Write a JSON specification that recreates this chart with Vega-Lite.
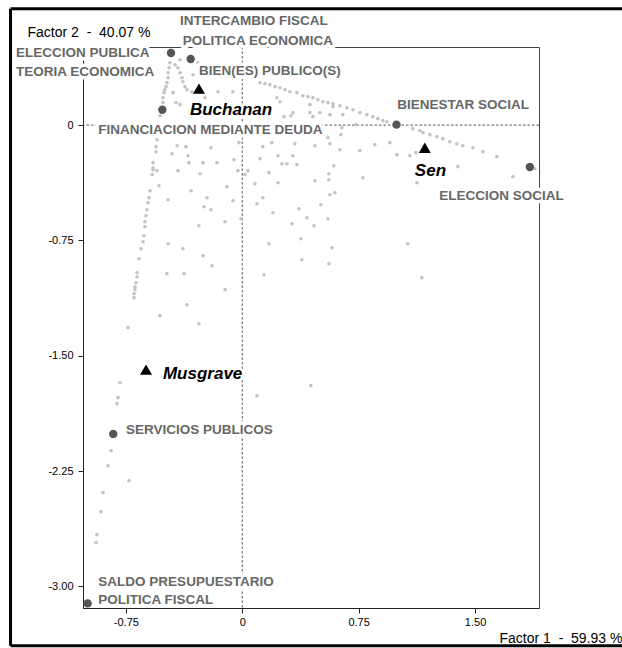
{
  "$schema": "https://vega.github.io/schema/vega-lite/v6.json",
  "width": 456,
  "height": 561,
  "autosize": {"type": "none"},
  "padding": {"left": 83, "top": 47, "right": 83, "bottom": 40},
  "background": "white",
  "config": {"view": {"stroke": "#444", "strokeWidth": 1}, "font": "Liberation Sans"},
  "datasets": {
    "puntos": [
      {"f1": -0.466, "f2": 0.406}, {"f1": -0.472, "f2": 0.373}, {"f1": -0.478, "f2": 0.341}, {"f1": -0.478, "f2": 0.308}, {"f1": -0.485, "f2": 0.276}, {"f1": -0.491, "f2": 0.25}, {"f1": -0.498, "f2": 0.23}, {"f1": -0.504, "f2": 0.211}, {"f1": -0.511, "f2": 0.178}, {"f1": -0.511, "f2": 0.146},
      {"f1": -0.433, "f2": 0.393}, {"f1": -0.414, "f2": 0.373}, {"f1": -0.401, "f2": 0.341}, {"f1": -0.388, "f2": 0.308}, {"f1": -0.382, "f2": 0.282}, {"f1": -0.369, "f2": 0.25}, {"f1": -0.356, "f2": 0.23}, {"f1": -0.324, "f2": 0.217},
      {"f1": -0.317, "f2": 0.328}, {"f1": -0.446, "f2": 0.211}, {"f1": -0.401, "f2": 0.133}, {"f1": -0.401, "f2": 0.425}, {"f1": -0.24, "f2": 0.178}, {"f1": -0.156, "f2": 0.217}, {"f1": -0.06, "f2": 0.217}, {"f1": -0.427, "f2": 0.146}, {"f1": -0.285, "f2": 0.406}, {"f1": -0.247, "f2": 0.393},
      {"f1": 0.114, "f2": 0.276}, {"f1": 0.146, "f2": 0.269}, {"f1": 0.178, "f2": 0.263}, {"f1": 0.211, "f2": 0.25}, {"f1": 0.243, "f2": 0.243}, {"f1": 0.275, "f2": 0.23}, {"f1": 0.307, "f2": 0.217}, {"f1": 0.352, "f2": 0.211}, {"f1": 0.391, "f2": 0.191}, {"f1": 0.423, "f2": 0.185}, {"f1": 0.455, "f2": 0.178}, {"f1": 0.487, "f2": 0.165}, {"f1": 0.52, "f2": 0.152}, {"f1": 0.552, "f2": 0.146}, {"f1": 0.584, "f2": 0.139}, {"f1": 0.629, "f2": 0.126}, {"f1": 0.674, "f2": 0.113}, {"f1": 0.713, "f2": 0.1}, {"f1": 0.758, "f2": 0.081}, {"f1": 0.803, "f2": 0.068}, {"f1": 0.842, "f2": 0.055}, {"f1": 0.874, "f2": 0.042}, {"f1": 0.906, "f2": 0.029}, {"f1": 0.932, "f2": 0.022},
      {"f1": 0.223, "f2": 0.178}, {"f1": 0.243, "f2": 0.152}, {"f1": 0.436, "f2": 0.133}, {"f1": 0.584, "f2": 0.12},
      {"f1": 1.099, "f2": -0.023}, {"f1": 1.144, "f2": -0.036}, {"f1": 1.164, "f2": -0.049}, {"f1": 1.209, "f2": -0.062}, {"f1": 1.254, "f2": -0.075}, {"f1": 1.292, "f2": -0.088}, {"f1": 1.337, "f2": -0.108}, {"f1": 1.382, "f2": -0.121}, {"f1": 1.421, "f2": -0.134}, {"f1": 1.486, "f2": -0.147}, {"f1": 1.55, "f2": -0.173}, {"f1": 1.64, "f2": -0.205}, {"f1": 1.885, "f2": -0.283},
      {"f1": 0.269, "f2": 0.055}, {"f1": 0.314, "f2": 0.061}, {"f1": 0.326, "f2": 0.081}, {"f1": 0.436, "f2": 0.081}, {"f1": 0.455, "f2": 0.055}, {"f1": 0.5, "f2": 0.081}, {"f1": 0.565, "f2": 0.068}, {"f1": 0.648, "f2": 0.068}, {"f1": 0.642, "f2": -0.017}, {"f1": 0.636, "f2": -0.062}, {"f1": 0.732, "f2": 0.003},
      {"f1": -0.549, "f2": -0.095}, {"f1": -0.556, "f2": -0.14}, {"f1": -0.556, "f2": -0.173}, {"f1": -0.53, "f2": 0.061}, {"f1": -0.42, "f2": -0.134}, {"f1": -0.363, "f2": -0.14}, {"f1": -0.202, "f2": -0.147}, {"f1": -0.021, "f2": -0.114}, {"f1": 0.191, "f2": -0.114}, {"f1": 0.133, "f2": -0.14}, {"f1": 0.339, "f2": -0.121}, {"f1": 0.468, "f2": -0.134}, {"f1": 0.565, "f2": -0.121}, {"f1": 0.552, "f2": -0.082}, {"f1": 0.629, "f2": -0.16}, {"f1": 0.758, "f2": -0.166}, {"f1": 0.854, "f2": -0.127}, {"f1": 0.951, "f2": -0.114}, {"f1": 0.996, "f2": -0.192}, {"f1": 1.08, "f2": -0.199}, {"f1": 1.118, "f2": -0.179}, {"f1": 1.389, "f2": -0.27}, {"f1": 1.743, "f2": -0.336}, {"f1": 1.125, "f2": -0.375}, {"f1": 0.777, "f2": -0.342},
      {"f1": -0.453, "f2": -0.186}, {"f1": -0.35, "f2": -0.199}, {"f1": -0.343, "f2": -0.244}, {"f1": -0.253, "f2": -0.244}, {"f1": -0.163, "f2": -0.244}, {"f1": -0.053, "f2": -0.225}, {"f1": -0.028, "f2": -0.296}, {"f1": 0.037, "f2": -0.296}, {"f1": 0.017, "f2": -0.322}, {"f1": 0.114, "f2": -0.218}, {"f1": 0.172, "f2": -0.309}, {"f1": 0.23, "f2": -0.199}, {"f1": 0.326, "f2": -0.199}, {"f1": 0.256, "f2": -0.251}, {"f1": 0.288, "f2": -0.251}, {"f1": 0.352, "f2": -0.257}, {"f1": 0.59, "f2": -0.264}, {"f1": 0.558, "f2": -0.316}, {"f1": 0.082, "f2": -0.381}, {"f1": 0.23, "f2": -0.375}, {"f1": 0.468, "f2": -0.362}, {"f1": 0.558, "f2": -0.355},
      {"f1": -0.575, "f2": -0.244}, {"f1": -0.575, "f2": -0.29}, {"f1": -0.549, "f2": -0.296}, {"f1": -0.414, "f2": -0.296}, {"f1": -0.272, "f2": -0.316}, {"f1": -0.536, "f2": -0.394}, {"f1": -0.33, "f2": -0.427}, {"f1": -0.099, "f2": -0.401}, {"f1": 0.133, "f2": -0.472}, {"f1": 0.565, "f2": -0.453}, {"f1": 0.597, "f2": -0.44},
      {"f1": -0.575, "f2": -0.277}, {"f1": -0.581, "f2": -0.322}, {"f1": -0.594, "f2": -0.427}, {"f1": -0.601, "f2": -0.472}, {"f1": -0.607, "f2": -0.505}, {"f1": -0.614, "f2": -0.55}, {"f1": -0.62, "f2": -0.589}, {"f1": -0.627, "f2": -0.628}, {"f1": -0.627, "f2": -0.661}, {"f1": -0.633, "f2": -0.719}, {"f1": -0.639, "f2": -0.758}, {"f1": -0.652, "f2": -0.804}, {"f1": -0.665, "f2": -0.869}, {"f1": -0.678, "f2": -0.96}, {"f1": -0.678, "f2": -0.986}, {"f1": -0.684, "f2": -1.025}, {"f1": -0.691, "f2": -1.051}, {"f1": -0.691, "f2": -1.07}, {"f1": -0.697, "f2": -1.096}, {"f1": -0.697, "f2": -1.122}, {"f1": -0.736, "f2": -1.317},
      {"f1": -0.478, "f2": -0.485}, {"f1": -0.227, "f2": -0.472}, {"f1": -0.247, "f2": -0.531}, {"f1": -0.202, "f2": -0.55}, {"f1": -0.06, "f2": -0.492}, {"f1": 0.095, "f2": -0.511}, {"f1": 0.198, "f2": -0.57}, {"f1": 0.417, "f2": -0.602}, {"f1": 0.552, "f2": -0.609}, {"f1": 0.32, "f2": -0.641}, {"f1": 0.462, "f2": -0.654}, {"f1": -0.008, "f2": -0.609}, {"f1": 0.365, "f2": -0.544}, {"f1": 0.507, "f2": -0.518}, {"f1": -0.111, "f2": -0.628}, {"f1": -0.279, "f2": -0.654}, {"f1": 0.378, "f2": -0.739}, {"f1": 0.172, "f2": -0.771}, {"f1": 0.578, "f2": -0.797}, {"f1": 0.384, "f2": -0.875}, {"f1": 0.558, "f2": -0.901}, {"f1": 1.067, "f2": -0.771}, {"f1": 1.157, "f2": -0.992}, {"f1": 0.14, "f2": -0.973}, {"f1": -0.478, "f2": -0.771}, {"f1": -0.382, "f2": -0.804}, {"f1": -0.253, "f2": -0.849}, {"f1": -0.195, "f2": -0.914}, {"f1": -0.485, "f2": -0.966}, {"f1": -0.375, "f2": -0.966}, {"f1": -0.111, "f2": -1.07}, {"f1": -0.356, "f2": -1.168}, {"f1": -0.53, "f2": -1.239}, {"f1": -0.279, "f2": -1.291},
      {"f1": -0.788, "f2": -1.675}, {"f1": -0.8, "f2": -1.772}, {"f1": -0.807, "f2": -1.811}, {"f1": -0.845, "f2": -2.117}, {"f1": -0.865, "f2": -2.215}, {"f1": -0.73, "f2": -2.312}, {"f1": -0.897, "f2": -2.39}, {"f1": -0.91, "f2": -2.514}, {"f1": -0.936, "f2": -2.663}, {"f1": -0.942, "f2": -2.715}, {"f1": 0.095, "f2": -1.759}, {"f1": 0.442, "f2": -1.694}
    ],
    "modalidades": [
      {"f1": -0.459, "f2": 0.469}, {"f1": -0.332, "f2": 0.43}, {"f1": -0.515, "f2": 0.1}, {"f1": 0.994, "f2": 0.003}, {"f1": 1.853, "f2": -0.272}, {"f1": -0.831, "f2": -2.008}, {"f1": -0.996, "f2": -3.11}
    ],
    "autores": [
      {"autor": "Buchanan", "f1": -0.279, "f2": 0.237},
      {"autor": "Sen", "f1": 1.176, "f2": -0.147},
      {"autor": "Musgrave", "f1": -0.62, "f2": -1.59}
    ],
    "etiquetas": [
      {"texto": "ELECCION PUBLICA", "tipo": "modalidad", "f1": -1.457, "f2": 0.469},
      {"texto": "TEORIA ECONOMICA", "tipo": "modalidad", "f1": -1.457, "f2": 0.343},
      {"texto": "INTERCAMBIO FISCAL", "tipo": "modalidad", "f1": -0.401, "f2": 0.674},
      {"texto": "POLITICA ECONOMICA", "tipo": "modalidad", "f1": -0.384, "f2": 0.544},
      {"texto": "BIEN(ES) PUBLICO(S)", "tipo": "modalidad", "f1": -0.279, "f2": 0.349},
      {"texto": "FINANCIACION MEDIANTE DEUDA", "tipo": "modalidad", "f1": -0.927, "f2": -0.034},
      {"texto": "BIENESTAR SOCIAL", "tipo": "modalidad", "f1": 0.998, "f2": 0.128},
      {"texto": "ELECCION SOCIAL", "tipo": "modalidad", "f1": 1.269, "f2": -0.464},
      {"texto": "SERVICIOS PUBLICOS", "tipo": "modalidad", "f1": -0.749, "f2": -1.985},
      {"texto": "SALDO PRESUPUESTARIO", "tipo": "modalidad", "f1": -0.927, "f2": -2.973},
      {"texto": "POLITICA FISCAL", "tipo": "modalidad", "f1": -0.927, "f2": -3.086},
      {"texto": "Buchanan", "tipo": "autor", "f1": -0.337, "f2": 0.1},
      {"texto": "Sen", "tipo": "autor", "f1": 1.112, "f2": -0.296},
      {"texto": "Musgrave", "tipo": "autor", "f1": -0.511, "f2": -1.616}
    ]
  },
  "layer": [
    {
      "data": {"values": [{}]},
      "mark": {"type": "rule", "color": "#000", "strokeWidth": 3},
      "encoding": {
        "x": {"datum": -1.493, "type": "quantitative", "scale": {"domain": [-1.026, 1.912], "nice": false, "zero": false}, "title": "Factor 1 \u00a0-\u00a0 59.93 %"},
        "y": {"datum": 0.757, "type": "quantitative", "scale": {"domain": [-3.14, 0.508], "nice": false, "zero": false}, "title": "Factor 2 \u00a0-\u00a0 40.07 %"},
        "y2": {"datum": -3.385}
      }
    },
    {
      "data": {"values": [{}]},
      "mark": {"type": "rule", "color": "#000", "strokeWidth": 3},
      "encoding": {
        "x": {"datum": -1.493, "type": "quantitative", "scale": {"domain": [-1.026, 1.912], "nice": false, "zero": false}, "title": "Factor 1 \u00a0-\u00a0 59.93 %"},
        "x2": {"datum": 2.8},
        "y": {"datum": 0.757, "type": "quantitative", "scale": {"domain": [-3.14, 0.508], "nice": false, "zero": false}, "title": "Factor 2 \u00a0-\u00a0 40.07 %"}
      }
    },
    {
      "data": {"values": [{}]},
      "mark": {"type": "rule", "color": "#000", "strokeWidth": 3},
      "encoding": {
        "x": {"datum": -1.493, "type": "quantitative", "scale": {"domain": [-1.026, 1.912], "nice": false, "zero": false}, "title": "Factor 1 \u00a0-\u00a0 59.93 %"},
        "x2": {"datum": 2.8},
        "y": {"datum": -3.385, "type": "quantitative", "scale": {"domain": [-3.14, 0.508], "nice": false, "zero": false}, "title": "Factor 2 \u00a0-\u00a0 40.07 %"}
      }
    },
    {
      "data": {"values": [{}]},
      "mark": {"type": "rule", "color": "#555", "strokeWidth": 1, "strokeDash": [2.5, 2]},
      "encoding": {
        "x": {"datum": 0, "type": "quantitative", "scale": {"domain": [-1.026, 1.912], "nice": false, "zero": false}, "title": "Factor 1 \u00a0-\u00a0 59.93 %"}
      }
    },
    {
      "data": {"values": [{}]},
      "mark": {"type": "rule", "color": "#555", "strokeWidth": 1, "strokeDash": [2.5, 2]},
      "encoding": {
        "y": {"datum": 0, "type": "quantitative", "scale": {"domain": [-3.14, 0.508], "nice": false, "zero": false}, "title": "Factor 2 \u00a0-\u00a0 40.07 %"}
      }
    },
    {
      "data": {"name": "puntos"},
      "mark": {"type": "circle", "size": 13, "color": "#c3c3c3", "opacity": 1},
      "encoding": {
        "x": {"field": "f1", "type": "quantitative", "scale": {"domain": [-1.026, 1.912], "nice": false, "zero": false}, "title": "Factor 1 \u00a0-\u00a0 59.93 %",
          "axis": {"values": [-0.75, 0, 0.75, 1.5], "labelExpr": "datum.value == 0 ? '0' : (datum.value < 0 ? '-' : '') + format(abs(datum.value), '.2f')", "grid": false, "domainColor": "#222", "tickColor": "#222", "tickSize": 5, "labelFont": "Liberation Sans", "labelFontSize": 11, "labelColor": "#000", "labelPadding": 3, "titleX": 416, "titleY": 30, "titleAlign": "left", "titleBaseline": "middle", "titleFont": "Liberation Sans", "titleFontSize": 14, "titleFontWeight": "normal", "titleColor": "#000"}},
        "y": {"field": "f2", "type": "quantitative", "scale": {"domain": [-3.14, 0.508], "nice": false, "zero": false}, "title": "Factor 2 \u00a0-\u00a0 40.07 %",
          "axis": {"values": [0, -0.75, -1.5, -2.25, -3], "labelExpr": "datum.value == 0 ? '0' : (datum.value < 0 ? '-' : '') + format(abs(datum.value), '.2f')", "grid": false, "domainColor": "#222", "tickColor": "#222", "tickSize": 5, "labelFont": "Liberation Sans", "labelFontSize": 11, "labelColor": "#000", "labelPadding": 5, "titleAngle": 0, "titleX": -56, "titleY": -14.5, "titleAlign": "left", "titleBaseline": "middle", "titleFont": "Liberation Sans", "titleFontSize": 14, "titleFontWeight": "normal", "titleColor": "#000"}}
      }
    },
    {
      "data": {"name": "modalidades"},
      "mark": {"type": "circle", "size": 70, "color": "#555555", "opacity": 1},
      "encoding": {
        "x": {"field": "f1", "type": "quantitative", "scale": {"domain": [-1.026, 1.912], "nice": false, "zero": false}, "title": "Factor 1 \u00a0-\u00a0 59.93 %"},
        "y": {"field": "f2", "type": "quantitative", "scale": {"domain": [-3.14, 0.508], "nice": false, "zero": false}, "title": "Factor 2 \u00a0-\u00a0 40.07 %"}
      }
    },
    {
      "data": {"name": "autores"},
      "mark": {"type": "point", "shape": "triangle-up", "size": 144, "filled": true, "color": "#000", "opacity": 1},
      "encoding": {
        "x": {"field": "f1", "type": "quantitative", "scale": {"domain": [-1.026, 1.912], "nice": false, "zero": false}, "title": "Factor 1 \u00a0-\u00a0 59.93 %"},
        "y": {"field": "f2", "type": "quantitative", "scale": {"domain": [-3.14, 0.508], "nice": false, "zero": false}, "title": "Factor 2 \u00a0-\u00a0 40.07 %"}
      }
    },
    {
      "data": {"name": "etiquetas"},
      "transform": [{"filter": "datum.tipo == 'modalidad'"}],
      "mark": {"type": "text", "align": "left", "baseline": "middle", "font": "Liberation Sans", "fontSize": 13.5, "fontWeight": "bold", "fill": "white", "stroke": "white", "strokeWidth": 7, "strokeJoin": "round"},
      "encoding": {
        "x": {"field": "f1", "type": "quantitative", "scale": {"domain": [-1.026, 1.912], "nice": false, "zero": false}, "title": "Factor 1 \u00a0-\u00a0 59.93 %"},
        "y": {"field": "f2", "type": "quantitative", "scale": {"domain": [-3.14, 0.508], "nice": false, "zero": false}, "title": "Factor 2 \u00a0-\u00a0 40.07 %"},
        "text": {"field": "texto"}
      }
    },
    {
      "data": {"name": "etiquetas"},
      "transform": [{"filter": "datum.tipo == 'autor'"}],
      "mark": {"type": "text", "align": "left", "baseline": "middle", "font": "Liberation Sans", "fontSize": 17, "fontWeight": "bold", "fontStyle": "italic", "fill": "white", "stroke": "white", "strokeWidth": 5, "strokeJoin": "round"},
      "encoding": {
        "x": {"field": "f1", "type": "quantitative", "scale": {"domain": [-1.026, 1.912], "nice": false, "zero": false}, "title": "Factor 1 \u00a0-\u00a0 59.93 %"},
        "y": {"field": "f2", "type": "quantitative", "scale": {"domain": [-3.14, 0.508], "nice": false, "zero": false}, "title": "Factor 2 \u00a0-\u00a0 40.07 %"},
        "text": {"field": "texto"}
      }
    },
    {
      "data": {"name": "etiquetas"},
      "transform": [{"filter": "datum.tipo == 'modalidad'"}],
      "mark": {"type": "text", "align": "left", "baseline": "middle", "font": "Liberation Sans", "fontSize": 13.5, "fontWeight": "bold", "fill": "#676767"},
      "encoding": {
        "x": {"field": "f1", "type": "quantitative", "scale": {"domain": [-1.026, 1.912], "nice": false, "zero": false}, "title": "Factor 1 \u00a0-\u00a0 59.93 %"},
        "y": {"field": "f2", "type": "quantitative", "scale": {"domain": [-3.14, 0.508], "nice": false, "zero": false}, "title": "Factor 2 \u00a0-\u00a0 40.07 %"},
        "text": {"field": "texto"}
      }
    },
    {
      "data": {"name": "etiquetas"},
      "transform": [{"filter": "datum.tipo == 'autor'"}],
      "mark": {"type": "text", "align": "left", "baseline": "middle", "font": "Liberation Sans", "fontSize": 17, "fontWeight": "bold", "fontStyle": "italic", "fill": "#000"},
      "encoding": {
        "x": {"field": "f1", "type": "quantitative", "scale": {"domain": [-1.026, 1.912], "nice": false, "zero": false}, "title": "Factor 1 \u00a0-\u00a0 59.93 %"},
        "y": {"field": "f2", "type": "quantitative", "scale": {"domain": [-3.14, 0.508], "nice": false, "zero": false}, "title": "Factor 2 \u00a0-\u00a0 40.07 %"},
        "text": {"field": "texto"}
      }
    }
  ]
}
